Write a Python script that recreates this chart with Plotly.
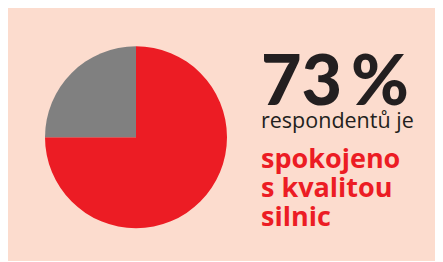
import plotly.graph_objects as go

# Data
categories = ["spokojeno", "ostatní"]
values = [75, 25]
slice_colors = ["#ec1c24", "#808080"]

headline = "73\u2009%"
subline = "respondentů je"
red_lines = ["spokojeno", "s kvalitou", "silnic"]

# The page body adds an 8 px margin; positions below are given in window px
OFF = 8
W, H = 435, 253
BG = "#fcdcce"
DARK = "#231f20"
RED = "#ec1c24"


def px_x(x):
    return (x - OFF) / W


def px_y(y):
    return (H - (y - OFF)) / H


fig = go.Figure()
fig.add_trace(go.Pie(
    labels=categories,
    values=values,
    marker=dict(colors=slice_colors, line=dict(width=0)),
    sort=False,
    direction="clockwise",
    rotation=0,
    textinfo="none",
    hoverinfo="label+percent",
    showlegend=False,
    domain=dict(x=[px_x(45), px_x(227)], y=[px_y(228.5), px_y(46)]),
))

annotations = [
    dict(text=headline, x=px_x(259), y=px_y(78.5),
         font=dict(family="Lato", size=70, color=DARK, weight=900)),
    dict(text=subline, x=px_x(259), y=px_y(119.8),
         font=dict(family="Open Sans", size=21.5, color=DARK)),
]
centers = [157.3, 186.1, 215.6]
for line, cy in zip(red_lines, centers):
    annotations.append(dict(text=line, x=px_x(259), y=px_y(cy),
                            font=dict(family="Open Sans", size=27, color=RED, weight=700)))
for a in annotations:
    a.update(xref="paper", yref="paper", xanchor="left", yanchor="middle",
             showarrow=False, align="left")

fig.update_layout(
    width=W, height=H,
    margin=dict(l=0, r=0, t=0, b=0),
    paper_bgcolor=BG,
    plot_bgcolor=BG,
    annotations=annotations,
)

fig.write_html("out.html")
